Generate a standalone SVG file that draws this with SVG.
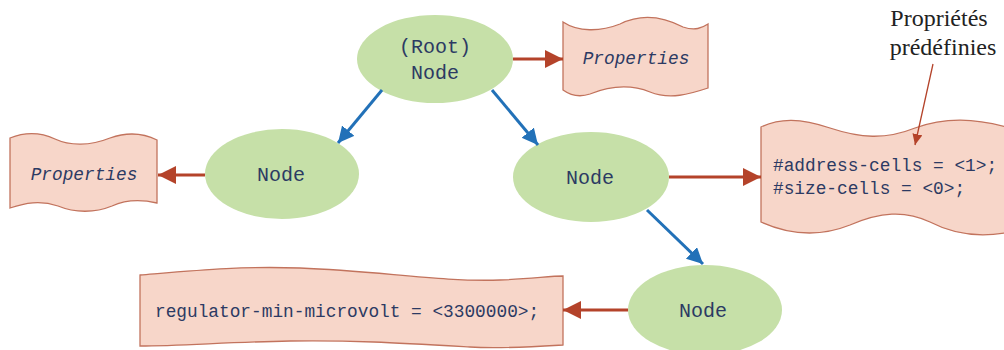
<svg xmlns="http://www.w3.org/2000/svg" width="1004" height="350" viewBox="0 0 1004 350">
<style>
.node{fill:#c6e0a8;stroke:none}
.box{fill:#f7d6c9;stroke:#c2735d;stroke-width:1.3}
.mono{font-family:"Liberation Mono","Courier New",monospace;fill:#2c3a63}
.nt{font-size:20px}
.pt{font-size:17.8px}
.it{font-style:italic}
.blue{stroke:#2271b8;stroke-width:3;fill:none}
.red{stroke:#b4432a;stroke-width:3;fill:none}
.thin{stroke:#b4432a;stroke-width:1.3;fill:none}
.serif{font-family:"Liberation Serif","Times New Roman",serif;font-size:24px;fill:#222}
</style>
<defs>
<marker id="ab" markerUnits="userSpaceOnUse" markerWidth="20" markerHeight="20" refX="16" refY="8" orient="auto">
<path d="M0,0 L16,8 L0,16 Z" fill="#2271b8"/>
</marker>
<marker id="ar" markerUnits="userSpaceOnUse" markerWidth="22" markerHeight="22" refX="18" refY="9" orient="auto">
<path d="M0,0 L18,9 L0,18 Z" fill="#b4432a"/>
</marker>
<marker id="at" markerUnits="userSpaceOnUse" markerWidth="14" markerHeight="14" refX="11" refY="5" orient="auto">
<path d="M0,0 L11,5 L0,10 Z" fill="#b4432a"/>
</marker>
</defs>

<g id="root">
<ellipse class="node" cx="435" cy="59" rx="78" ry="44"/>
<text class="mono nt" x="435" y="53" text-anchor="middle">(Root)</text>
<text class="mono nt" x="435" y="79" text-anchor="middle">Node</text>
</g>

<g id="props-root">
<path class="box" d="M563,22 C578,32 600,32 620,24 C640,14 662,16 683,27 C695,31 702,28 708,24 L708,88 C690,94 670,100 650,92 C630,84 610,86 590,94 C578,98 570,95 563,90 Z"/>
<text class="mono pt it" x="636" y="64" text-anchor="middle">Properties</text>
</g>

<g id="node-left">
<ellipse class="node" cx="282" cy="174" rx="77" ry="45"/>
<text class="mono nt" x="281" y="181" text-anchor="middle">Node</text>
</g>

<g id="props-left">
<path class="box" d="M10,138 C25,132 40,132 55,139 C70,146 90,146 110,138 C130,131 145,134 157,140 L157,203 C140,199 125,200 112,206 C95,213 75,213 58,206 C40,200 25,203 10,208 Z"/>
<text class="mono pt it" x="84" y="180" text-anchor="middle">Properties</text>
</g>

<g id="node-mid">
<ellipse class="node" cx="591" cy="177" rx="78" ry="45"/>
<text class="mono nt" x="590" y="184" text-anchor="middle">Node</text>
</g>

<g id="props-mid">
<path class="box" d="M761,127 C780,118 800,118 830,128 C860,138 885,140 915,128 C945,117 975,118 1010,128 L1010,232 C980,238 955,235 930,222 C905,210 880,212 850,225 C820,237 790,235 761,222 Z"/>
<text class="mono pt" x="773" y="171">#address-cells = &lt;1&gt;;</text>
<text class="mono pt" x="773" y="194">#size-cells = &lt;0&gt;;</text>
</g>

<g id="node-bottom">
<ellipse class="node" cx="705" cy="310" rx="77" ry="45"/>
<text class="mono nt" x="703" y="317" text-anchor="middle">Node</text>
</g>

<g id="props-bottom">
<path class="box" d="M140,275 C200,270 240,266 300,268 C380,271 440,282 500,280 C530,279 550,276 563,276 L563,345 C530,347 500,349 470,347 C400,343 350,340 290,341 C230,342 180,346 140,346 Z"/>
<text class="mono pt" x="155" y="317">regulator-min-microvolt = &lt;3300000&gt;;</text>
</g>

<g id="label">
<text class="serif" x="939" y="26" text-anchor="middle">Propriétés</text>
<text class="serif" x="943" y="55" text-anchor="middle">prédéfinies</text>
</g>

<g id="connectors">
<line class="blue" x1="382" y1="90" x2="338" y2="143" marker-end="url(#ab)"/>
<line class="blue" x1="492" y1="90" x2="538" y2="145" marker-end="url(#ab)"/>
<line class="blue" x1="647" y1="210" x2="703" y2="264" marker-end="url(#ab)"/>
<line class="red" x1="513" y1="59" x2="563" y2="59" marker-end="url(#ar)"/>
<line class="red" x1="205" y1="175" x2="158" y2="175" marker-end="url(#ar)"/>
<line class="red" x1="669" y1="177" x2="761" y2="177" marker-end="url(#ar)"/>
<line class="red" x1="628" y1="310" x2="563" y2="310" marker-end="url(#ar)"/>
<line class="thin" x1="933" y1="64" x2="915" y2="145" marker-end="url(#at)"/>
</g>
</svg>
